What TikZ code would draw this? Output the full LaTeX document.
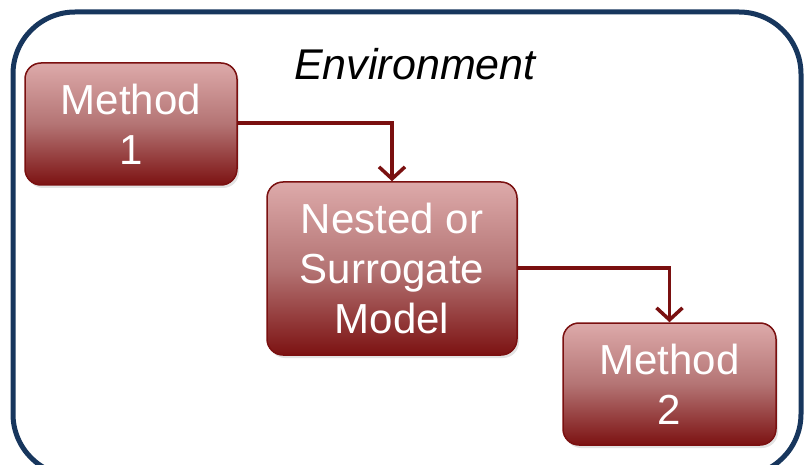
\documentclass[tikz,border=0pt]{standalone}
\usepackage{fontspec}
\setmainfont{Liberation Sans}
\usetikzlibrary{arrows.meta,shadows}
\definecolor{framec}{HTML}{17365D}
\definecolor{boxtop}{HTML}{DDAAAA}
\definecolor{boxmid}{HTML}{B47474}
\definecolor{boxbot}{HTML}{7C1212}
\definecolor{edgec}{HTML}{7A1010}
\tikzset{
  x=1pt, y=-1pt,
  stagebox/.style={rounded corners=16pt, draw=edgec, line width=1.5pt,
    top color=boxtop, bottom color=boxbot, middle color=boxmid,
    text=white, align=center, font=\fontsize{42}{50}\selectfont,
    drop shadow={opacity=0.22, shadow xshift=2pt, shadow yshift=-3pt},
    inner sep=0pt},
  flow/.style={draw=edgec, line width=3.5pt,
    -{Straight Barb[length=12pt,width=26pt,line width=3.5pt]}}
}
\begin{document}
\begin{tikzpicture}
\useasboundingbox (0,0) rectangle (806,465);
% environment frame
\draw[framec, line width=5pt, rounded corners=62pt, fill=white] (13,12) rectangle (801,476);
\node[font=\itshape\fontsize{43}{50}\selectfont, anchor=base] (env) at (415,80) {Environment};
% stages
\node[stagebox, minimum width=212pt, minimum height=122pt] (m1) at (131,124) {Method\\1};
\node[stagebox, minimum width=250pt, minimum height=173pt] (nest) at (392,268.5) {Nested or\\Surrogate\\Model};
\node[stagebox, minimum width=213pt, minimum height=122pt] (m2) at (669.5,384) {Method\\2};
% connectors
\draw[flow] (m1.east |- 0,123) -| (nest.north);
\draw[flow] (nest.east |- 0,268) -| (m2.north);
\end{tikzpicture}
\end{document}
